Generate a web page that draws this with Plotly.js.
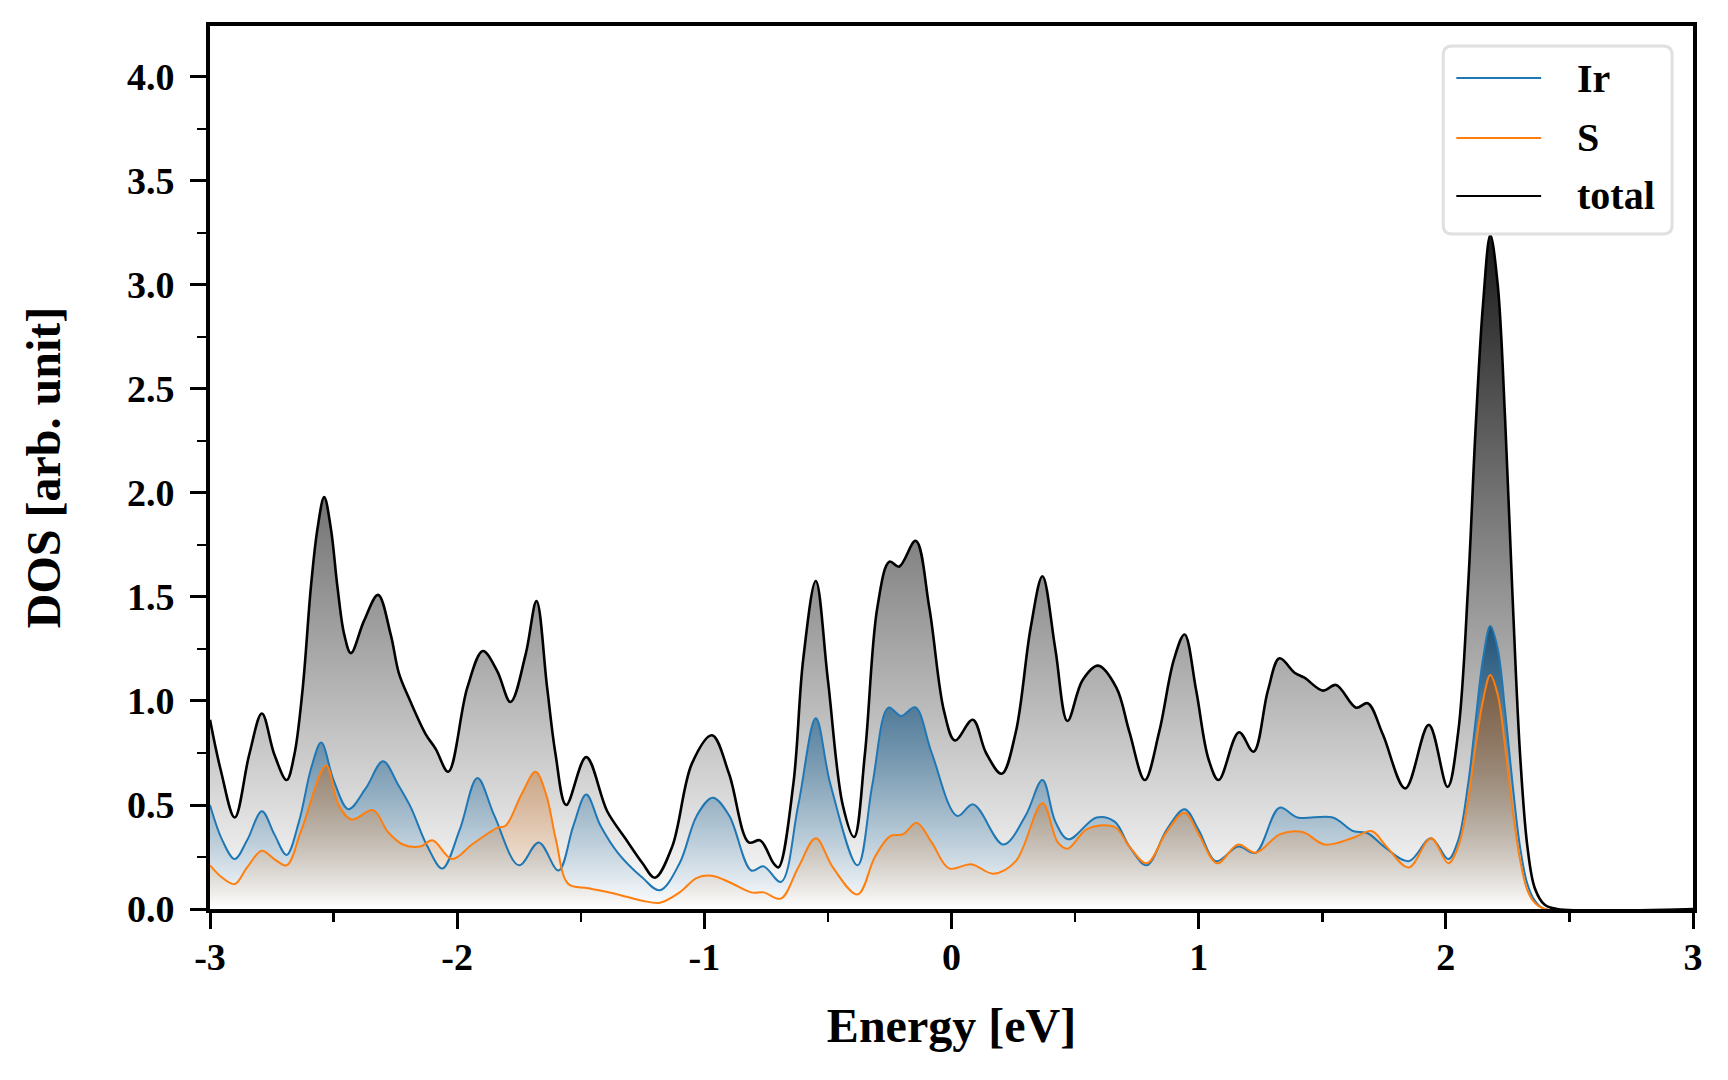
<!DOCTYPE html>
<html>
<head>
<meta charset="utf-8">
<script src="https://cdn.plot.ly/plotly-3.0.1.min.js"></script>
<style>
  html, body { margin: 0; padding: 0; background: #ffffff; }
  #chart { width: 1728px; height: 1080px; }
</style>
</head>
<body>
<div id="chart"></div>
<script>
// ---- Data ----
const totalEnergy = [-3.00,-2.955,-2.90,-2.841,-2.79,-2.74,-2.69,-2.659,-2.625,-2.592,-2.565,-2.538,-2.511,-2.484,-2.457,-2.43,-2.377,-2.32,-2.269,-2.235,-2.19,-2.127,-2.087,-2.036,-1.959,-1.896,-1.838,-1.784,-1.723,-1.679,-1.636,-1.602,-1.559,-1.478,-1.393,-1.32,-1.25,-1.20,-1.13,-1.05,-0.969,-0.90,-0.82,-0.774,-0.72,-0.70,-0.64,-0.60,-0.549,-0.50,-0.44,-0.394,-0.35,-0.30,-0.251,-0.212,-0.145,-0.09,-0.03,0.014,0.086,0.14,0.203,0.26,0.32,0.368,0.42,0.469,0.53,0.593,0.667,0.72,0.782,0.84,0.90,0.943,0.99,1.04,1.081,1.163,1.222,1.28,1.327,1.388,1.428,1.502,1.556,1.637,1.684,1.745,1.836,1.931,2.007,2.05,2.09,2.12,2.15,2.18,2.21,2.24,2.27,2.30,2.33,2.36,2.40,2.45,3.00];
const totalDOS    = [0.91,0.66,0.44,0.744,0.94,0.744,0.62,0.74,1.06,1.545,1.83,1.98,1.83,1.545,1.32,1.23,1.385,1.51,1.32,1.13,1.00,0.84,0.77,0.66,1.064,1.24,1.144,0.995,1.224,1.48,1.064,0.744,0.50,0.73,0.47,0.34,0.22,0.15,0.30,0.70,0.835,0.65,0.32,0.33,0.22,0.20,0.60,1.20,1.577,1.10,0.50,0.346,0.75,1.45,1.67,1.646,1.77,1.45,0.95,0.81,0.91,0.75,0.65,0.85,1.35,1.60,1.25,0.904,1.10,1.17,1.064,0.85,0.62,0.85,1.20,1.32,1.05,0.72,0.62,0.85,0.756,1.05,1.205,1.136,1.112,1.05,1.077,0.968,0.989,0.84,0.58,0.885,0.587,0.85,1.55,2.30,2.90,3.24,3.00,2.35,1.50,0.75,0.30,0.10,0.02,0.0,0.0];

const irEnergy = [-3.00,-2.95,-2.90,-2.85,-2.79,-2.74,-2.69,-2.64,-2.59,-2.55,-2.50,-2.44,-2.37,-2.30,-2.24,-2.188,-2.12,-2.06,-1.99,-1.918,-1.85,-1.75,-1.67,-1.59,-1.53,-1.478,-1.42,-1.35,-1.25,-1.18,-1.10,-1.03,-0.966,-0.90,-0.81,-0.76,-0.69,-0.62,-0.549,-0.49,-0.38,-0.32,-0.255,-0.204,-0.147,-0.08,0.023,0.088,0.21,0.30,0.368,0.42,0.472,0.587,0.66,0.72,0.79,0.87,0.943,1.00,1.07,1.16,1.23,1.327,1.40,1.543,1.624,1.684,1.75,1.85,1.94,2.01,2.05,2.09,2.12,2.15,2.18,2.21,2.24,2.27,2.30,2.33,2.36,2.40,3.00];
const irDOS    = [0.50,0.33,0.24,0.33,0.47,0.36,0.26,0.42,0.68,0.80,0.62,0.48,0.58,0.71,0.60,0.49,0.30,0.195,0.38,0.63,0.45,0.21,0.32,0.185,0.40,0.55,0.40,0.27,0.15,0.09,0.22,0.45,0.535,0.45,0.185,0.205,0.13,0.50,0.917,0.60,0.21,0.60,0.968,0.928,0.97,0.75,0.447,0.503,0.31,0.45,0.62,0.42,0.335,0.44,0.42,0.30,0.21,0.38,0.48,0.38,0.23,0.30,0.27,0.487,0.44,0.44,0.375,0.364,0.30,0.23,0.34,0.24,0.33,0.60,0.90,1.20,1.36,1.25,0.95,0.60,0.30,0.12,0.04,0.0,0.0];

const sEnergy = [-3.00,-2.95,-2.90,-2.85,-2.79,-2.74,-2.69,-2.63,-2.53,-2.48,-2.427,-2.34,-2.28,-2.22,-2.15,-2.10,-2.02,-1.94,-1.838,-1.804,-1.74,-1.683,-1.64,-1.60,-1.55,-1.47,-1.35,-1.25,-1.18,-1.10,-1.03,-0.97,-0.90,-0.81,-0.76,-0.69,-0.62,-0.549,-0.48,-0.38,-0.31,-0.248,-0.195,-0.141,-0.08,-0.01,0.08,0.17,0.26,0.368,0.43,0.47,0.55,0.66,0.72,0.79,0.87,0.943,1.00,1.075,1.16,1.23,1.33,1.42,1.51,1.62,1.70,1.76,1.85,1.94,2.01,2.05,2.09,2.12,2.15,2.18,2.21,2.24,2.27,2.30,2.33,2.36,2.40,3.00];
const sDOS    = [0.21,0.15,0.12,0.20,0.28,0.24,0.21,0.38,0.69,0.50,0.43,0.475,0.37,0.31,0.30,0.33,0.24,0.31,0.39,0.40,0.55,0.66,0.55,0.33,0.12,0.10,0.07,0.04,0.03,0.08,0.15,0.16,0.13,0.08,0.08,0.05,0.20,0.34,0.20,0.07,0.25,0.35,0.36,0.415,0.32,0.195,0.215,0.17,0.23,0.508,0.32,0.29,0.385,0.395,0.30,0.22,0.37,0.463,0.36,0.22,0.31,0.27,0.36,0.37,0.31,0.34,0.375,0.30,0.20,0.34,0.22,0.30,0.52,0.78,1.00,1.125,1.03,0.78,0.48,0.24,0.09,0.03,0.0,0.0];

const seriesNames = ['Ir', 'S', 'total'];
const xTickVals = [-3, -2, -1, 0, 1, 2, 3];
const xTickText = ['-3', '-2', '-1', '0', '1', '2', '3'];
const yTickVals = [0, 0.5, 1.0, 1.5, 2.0, 2.5, 3.0, 3.5, 4.0];
const yTickText = ['0.0', '0.5', '1.0', '1.5', '2.0', '2.5', '3.0', '3.5', '4.0'];

// ---- Styling ----
const FONT = 'Liberation Serif, Times New Roman, serif';
const colIr = '#1f77b4', colS = '#ff7f0e', colTot = '#000000';
const SMOOTH = 1.0;

function fillTrace(x, y, scale) {
  return {
    x: x, y: y, type: 'scatter', mode: 'lines',
    line: { width: 0, shape: 'spline', smoothing: SMOOTH },
    fill: 'tozeroy',
    fillgradient: { type: 'vertical', start: 0, stop: Math.max.apply(null, y), colorscale: scale },
    hoverinfo: 'skip', showlegend: false
  };
}
function lineTrace(x, y, color, w, name) {
  return {
    x: x, y: y, type: 'scatter', mode: 'lines', name: name,
    line: { color: color, width: w, shape: 'spline', smoothing: SMOOTH },
    showlegend: false
  };
}

const traces = [
  fillTrace(totalEnergy, totalDOS, [[0, 'rgba(0,0,0,0)'], [1, 'rgba(0,0,0,0.9)']]),
  fillTrace(irEnergy, irDOS, [[0, 'rgba(31,119,180,0)'], [1, 'rgba(20,75,115,0.9)']]),
  fillTrace(sEnergy, sDOS, [[0, 'rgba(255,127,14,0)'], [1, 'rgba(146,85,37,0.7)']]),
  lineTrace(irEnergy, irDOS, colIr, 2, seriesNames[0]),
  lineTrace(sEnergy, sDOS, colS, 2, seriesNames[1]),
  lineTrace(totalEnergy, totalDOS, colTot, 2.6, seriesNames[2])
];

// custom legend (box with rounded corners, long line samples)
const bx0 = 0.8316, bx1 = 0.9859, by0 = 0.7644, by1 = 0.9773, rx = 0.0061, ry = 0.0102;
const boxPath = `M${bx0+rx},${by0} L${bx1-rx},${by0} Q${bx1},${by0} ${bx1},${by0+ry} L${bx1},${by1-ry} Q${bx1},${by1} ${bx1-rx},${by1} L${bx0+rx},${by1} Q${bx0},${by1} ${bx0},${by1-ry} L${bx0},${by0+ry} Q${bx0},${by0} ${bx0+rx},${by0} Z`;
const legY = [0.9411, 0.8732, 0.8075];
const legCols = [colIr, colS, colTot];
const shapes = [{
  type: 'path', xref: 'paper', yref: 'paper', path: boxPath,
  fillcolor: 'rgba(255,255,255,0.8)', line: { color: '#e0e0e0', width: 3 }, layer: 'above'
}];
const annotations = [];
seriesNames.forEach((n, i) => {
  shapes.push({ type: 'line', xref: 'paper', yref: 'paper', x0: 0.8404, x1: 0.8976, y0: legY[i], y1: legY[i],
    line: { color: legCols[i], width: 2 }, layer: 'above' });
  annotations.push({ xref: 'paper', yref: 'paper', x: 0.9205, y: legY[i], xanchor: 'left', yanchor: 'middle',
    text: '<b>' + n + '</b>', showarrow: false, font: { family: FONT, size: 40, color: '#000' } });
});

const layout = {
  width: 1728, height: 1080,
  margin: { l: 210, r: 35, t: 26, b: 171 },
  paper_bgcolor: '#ffffff', plot_bgcolor: '#ffffff',
  font: { family: FONT, color: '#000' },
  showlegend: false,
  xaxis: {
    range: [-3, 3], tickmode: 'array', tickvals: xTickVals, ticktext: xTickText,
    ticks: 'outside', ticklen: 16, tickwidth: 3, tickcolor: '#000',
    minor: { tickmode: 'linear', tick0: -3, dtick: 0.5, ticks: 'outside', ticklen: 9, tickwidth: 2.5, tickcolor: '#000' },
    showline: true, linewidth: 4, linecolor: '#000', mirror: true,
    showgrid: false, zeroline: false,
    tickfont: { family: FONT, size: 38, weight: 'bold', color: '#000' },
    ticklabelstandoff: -5,
    title: { text: '<b>Energy [eV]</b>', font: { family: FONT, size: 48, color: '#000' }, standoff: 33 }
  },
  yaxis: {
    range: [0, 4.245], tickmode: 'array', tickvals: yTickVals, ticktext: yTickText,
    ticks: 'outside', ticklen: 16, tickwidth: 3, tickcolor: '#000',
    minor: { tickmode: 'linear', tick0: 0, dtick: 0.25, ticks: 'outside', ticklen: 9, tickwidth: 2.5, tickcolor: '#000' },
    showline: true, linewidth: 4, linecolor: '#000', mirror: true,
    showgrid: false, zeroline: false,
    tickfont: { family: FONT, size: 38, weight: 'bold', color: '#000' },
    ticklabelstandoff: 8,
    title: { text: '<b>DOS [arb. unit]</b>', font: { family: FONT, size: 48, color: '#000' }, standoff: 52 }
  },
  shapes: shapes,
  annotations: annotations
};

Plotly.newPlot('chart', traces, layout, { displayModeBar: false, staticPlot: true });
</script>
</body>
</html>
